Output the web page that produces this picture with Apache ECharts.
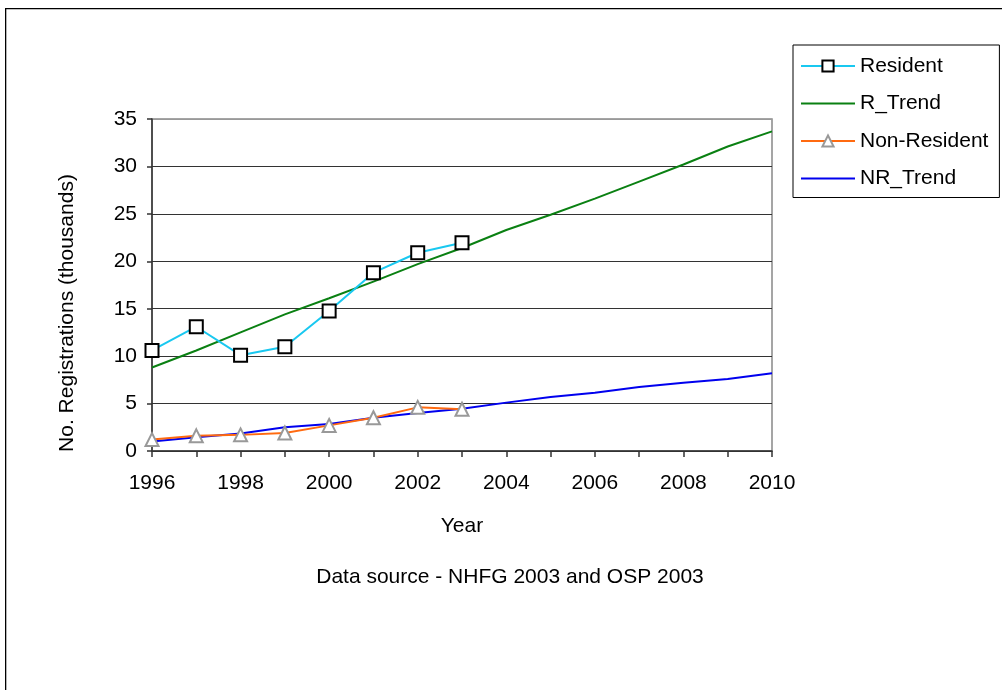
<!DOCTYPE html>
<html>
<head>
<meta charset="utf-8">
<script src="https://cdn.jsdelivr.net/npm/echarts@6/dist/echarts.min.js"></script>
<style>
html,body{margin:0;padding:0;background:#fff;}
#chart{width:1002px;height:690px;}
</style>
</head>
<body>
<div id="chart"></div>
<script>
const years = ['1996','1997','1998','1999','2000','2001','2002','2003','2004','2005','2006','2007','2008','2009','2010'];
const resident = [10.6, 13.1, 10.1, 11.0, 14.75, 18.8, 20.9, 21.95];
const rTrend = [8.8, 10.6, 12.5, 14.4, 16.1, 17.85, 19.7, 21.4, 23.3, 24.9, 26.6, 28.4, 30.2, 32.1, 33.7];
const nonResident = [1.2, 1.6, 1.7, 1.9, 2.7, 3.5, 4.6, 4.4];
const nrTrend = [1.0, 1.45, 1.85, 2.5, 2.85, 3.5, 4.0, 4.45, 5.1, 5.7, 6.15, 6.75, 7.2, 7.6, 8.2];
const yTicks = {min: 0, max: 35, interval: 5};

const FONT = 'Liberation Sans, Arial, sans-serif';
const FS = 21;
const lineIcon = 'path://M0,0h54v2.2h-54z';
const chart = echarts.init(document.getElementById('chart'));
chart.setOption({
  animation: false,
  backgroundColor: '#fff',
  textStyle: {fontFamily: FONT},
  graphic: [{
    type: 'rect', left: 5, top: 8, z: -10,
    shape: {width: 1010, height: 700},
    style: {fill: '#fff', stroke: '#000', lineWidth: 1.3}
  }, {
    type: 'text', x: 67, y: 313, rotation: Math.PI / 2, z: 10,
    style: {
      text: 'No. Registrations (thousands)', fontFamily: FONT, fontSize: FS,
      fill: '#000', textAlign: 'center', textVerticalAlign: 'middle'
    }
  }],
  title: {
    text: 'Data source - NHFG 2003 and OSP 2003',
    left: 510, top: 567, textAlign: 'center', padding: 0,
    textStyle: {fontFamily: FONT, fontSize: FS, fontWeight: 'normal', color: '#000'}
  },
  legend: {
    orient: 'vertical', left: 793, top: 45,
    padding: [10.5, 11, 8.5, 7],
    itemWidth: 54, itemHeight: 14, itemGap: 16.5,
    borderColor: '#000', borderWidth: 1, backgroundColor: '#fff',
    textStyle: {fontFamily: FONT, fontSize: FS, color: '#000'},
    data: [
      {name: 'Resident'},
      {name: 'R_Trend', icon: lineIcon},
      {name: 'Non-Resident'},
      {name: 'NR_Trend', icon: lineIcon}
    ]
  },
  grid: {
    left: 152, right: 230, top: 119, bottom: 239,
    show: true, borderColor: '#888', borderWidth: 1.5
  },
  xAxis: {
    type: 'category', data: years, boundaryGap: false,
    name: 'Year', nameLocation: 'middle', nameGap: 65,
    nameTextStyle: {fontFamily: FONT, fontSize: FS, color: '#000'},
    axisLine: {lineStyle: {color: '#333', width: 1.5}},
    axisTick: {show: true, interval: 0, length: 6, lineStyle: {color: '#333', width: 1.5}},
    axisLabel: {interval: 1, fontFamily: FONT, fontSize: FS, color: '#000', margin: 22},
    splitLine: {show: false}
  },
  yAxis: {
    type: 'value', min: yTicks.min, max: yTicks.max, interval: yTicks.interval,
    axisLine: {show: true, lineStyle: {color: '#333', width: 1.5}},
    axisTick: {show: true, length: 5, lineStyle: {color: '#333', width: 1.5}},
    axisLabel: {fontFamily: FONT, fontSize: FS, color: '#000', margin: 15},
    splitLine: {show: true, lineStyle: {color: ['#333','#333','#333','#333','#333','#333','#333','#999'], width: 1}}
  },
  series: [
    {
      name: 'Resident', type: 'line', data: resident, z: 5,
      symbol: 'rect', symbolSize: 13, showAllSymbol: true,
      lineStyle: {color: '#19c8f0', width: 2},
      itemStyle: {color: '#fff', borderColor: '#000', borderWidth: 2}
    },
    {
      name: 'R_Trend', type: 'line', data: rTrend, z: 3,
      symbol: 'none',
      lineStyle: {color: '#0a8012', width: 2},
      itemStyle: {color: '#0a8012'}
    },
    {
      name: 'Non-Resident', type: 'line', data: nonResident, z: 4,
      symbol: 'triangle', symbolSize: 13, showAllSymbol: true,
      lineStyle: {color: '#ff6a10', width: 2},
      itemStyle: {color: '#fff', borderColor: '#999', borderWidth: 2}
    },
    {
      name: 'NR_Trend', type: 'line', data: nrTrend, z: 3,
      symbol: 'none',
      lineStyle: {color: '#0000ee', width: 2},
      itemStyle: {color: '#0000ee'}
    }
  ]
});
</script>
</body>
</html>
